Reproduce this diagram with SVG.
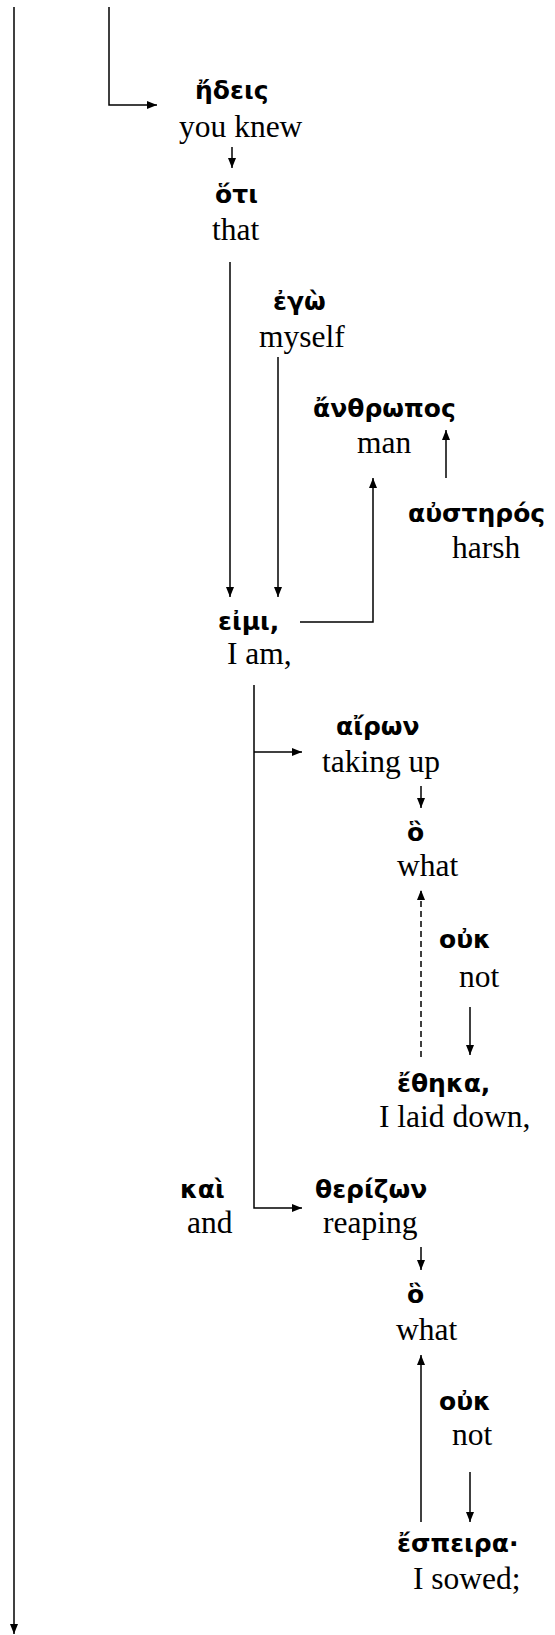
<svg xmlns="http://www.w3.org/2000/svg" width="555" height="1635" viewBox="0 0 555 1635">
<style>
.gk{font-family:"DejaVu Sans","Noto Sans",sans-serif;font-weight:bold;font-size:25px;fill:#000}
.en{font-family:"Liberation Serif","Times New Roman",serif;font-size:31.5px;fill:#000}
.ln{fill:none;stroke:#000;stroke-width:1.5}
.dash{stroke-dasharray:6,4}
</style>
<defs>
<marker id="ah" viewBox="0 0 10 10" refX="10" refY="5" markerWidth="10" markerHeight="10" markerUnits="userSpaceOnUse" orient="auto">
<path d="M0,1 L10,5 L0,9 z" fill="#000"/>
</marker>
</defs>
<rect width="555" height="1635" fill="#fff"/>
<g id="connectors">
<path class="ln" d="M14,7 V1634" marker-end="url(#ah)"/>
<path class="ln" d="M109,7 V105 H157" marker-end="url(#ah)"/>
<path class="ln" d="M232,147 V168" marker-end="url(#ah)"/>
<path class="ln" d="M230,262 V597" marker-end="url(#ah)"/>
<path class="ln" d="M278,357 V597" marker-end="url(#ah)"/>
<path class="ln" d="M300,622 H373 V478" marker-end="url(#ah)"/>
<path class="ln" d="M446,478 V430" marker-end="url(#ah)"/>
<path class="ln" d="M254,685 V1208 H302" marker-end="url(#ah)"/>
<path class="ln" d="M254,752 H302" marker-end="url(#ah)"/>
<path class="ln" d="M421,786 V808" marker-end="url(#ah)"/>
<path class="ln dash" d="M421,1057 V890" marker-end="url(#ah)"/>
<path class="ln" d="M470,1007 V1055" marker-end="url(#ah)"/>
<path class="ln" d="M421,1247 V1270" marker-end="url(#ah)"/>
<path class="ln" d="M421,1522 V1355" marker-end="url(#ah)"/>
<path class="ln" d="M470,1472 V1522" marker-end="url(#ah)"/>
</g>
<g id="n-edeis"><text class="gk" x="195" y="99">ἤδεις</text><text class="en" x="179" y="137">you knew</text></g>
<g id="n-hoti"><text class="gk" x="215" y="203">ὅτι</text><text class="en" x="212" y="240">that</text></g>
<g id="n-ego"><text class="gk" x="273" y="310">ἐγὼ</text><text class="en" x="259" y="347">myself</text></g>
<g id="n-anthropos"><text class="gk" x="313" y="417">ἄνθρωπος</text><text class="en" x="357" y="453">man</text></g>
<g id="n-austeros"><text class="gk" x="408" y="522">αὐστηρός</text><text class="en" x="452" y="558">harsh</text></g>
<g id="n-eimi"><text class="gk" x="218" y="630">εἰμι,</text><text class="en" x="227" y="664">I am,</text></g>
<g id="n-airon"><text class="gk" x="336" y="735">αἴρων</text><text class="en" x="322" y="772">taking up</text></g>
<g id="n-ho1"><text class="gk" x="407" y="841">ὃ</text><text class="en" x="397" y="876">what</text></g>
<g id="n-ouk1"><text class="gk" x="439" y="948">οὐκ</text><text class="en" x="459" y="987">not</text></g>
<g id="n-ethika"><text class="gk" x="397" y="1092">ἔθηκα,</text><text class="en" x="379" y="1127">I laid down,</text></g>
<g id="n-kai"><text class="gk" x="180" y="1198">καὶ</text><text class="en" x="187" y="1233">and</text></g>
<g id="n-therizon"><text class="gk" x="315" y="1198">θερίζων</text><text class="en" x="323" y="1233">reaping</text></g>
<g id="n-ho2"><text class="gk" x="407" y="1303">ὃ</text><text class="en" x="396" y="1340">what</text></g>
<g id="n-ouk2"><text class="gk" x="439" y="1410">οὐκ</text><text class="en" x="452" y="1445">not</text></g>
<g id="n-espeira"><text class="gk" x="397" y="1552">ἔσπειρα·</text><text class="en" x="413" y="1589">I sowed;</text></g>
</svg>
